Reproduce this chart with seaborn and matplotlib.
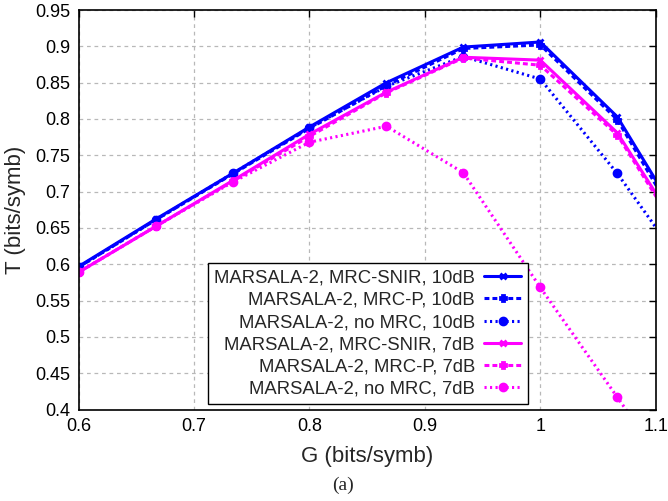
import matplotlib
matplotlib.use("Agg")
import matplotlib.pyplot as plt
import seaborn as sns
import pandas as pd

# G values (bits/symb); last point lies outside the shown x range
g_values = [0.6, 0.6667, 0.7333, 0.8, 0.8667, 0.9333, 1.0, 1.0667, 1.1333]

snir_10db = [0.597, 0.662, 0.725, 0.789, 0.850, 0.899, 0.906, 0.803, 0.629]
mrcp_10db = [0.596, 0.661, 0.724, 0.787, 0.846, 0.897, 0.902, 0.799, 0.620]
nomrc_10db = [0.596, 0.661, 0.725, 0.788, 0.845, 0.886, 0.855, 0.725, 0.577]
snir_7db = [0.589, 0.652, 0.715, 0.779, 0.837, 0.885, 0.881, 0.781, 0.615]
mrcp_7db = [0.589, 0.652, 0.714, 0.776, 0.836, 0.884, 0.874, 0.778, 0.610]
nomrc_7db = [0.589, 0.652, 0.713, 0.768, 0.790, 0.726, 0.568, 0.417, 0.266]

labels = [
    "MARSALA-2, MRC-SNIR, 10dB",
    "MARSALA-2, MRC-P, 10dB",
    "MARSALA-2, no MRC, 10dB",
    "MARSALA-2, MRC-SNIR, 7dB",
    "MARSALA-2, MRC-P, 7dB",
    "MARSALA-2, no MRC, 7dB",
]
series = [snir_10db, mrcp_10db, nomrc_10db, snir_7db, mrcp_7db, nomrc_7db]

colors = ["#0000ff", "#0000ff", "#0000ff", "#ff00ff", "#ff00ff", "#ff00ff"]
styles = ["-", (0, (1.6, 1.0)), (0, (0.7, 1.1)), "-", (0, (1.6, 1.0)), (0, (0.7, 1.1))]
markers = ["x", "P", "o", "x", "P", "o"]
msizes = [4.5, 4, 5, 4.5, 4, 5]

rows = []
for lab, vals in zip(labels, series):
    for g, t in zip(g_values, vals):
        rows.append({"G": g, "T": t, "curve": lab})
df = pd.DataFrame(rows)

sns.set_theme(style="white")
plt.rcParams["font.family"] = ["Liberation Sans", "DejaVu Sans"]

fig = plt.figure(figsize=(6.68, 5.01), dpi=100)
ax = fig.add_axes([0.1178, 0.1826, 0.8638, 0.7974])

for lab, col, ls, mk, ms in zip(labels, colors, styles, markers, msizes):
    sub = df[df["curve"] == lab]
    sns.lineplot(data=sub, x="G", y="T", ax=ax, color=col, linestyle=ls,
                 linewidth=2.2, marker=mk, markersize=ms, markeredgewidth=2,
                 markeredgecolor=col, label=lab, sort=False)

ax.set_xlim(0.6, 1.1)
ax.set_ylim(0.4, 0.95)
ax.set_xticks([0.6, 0.7, 0.8, 0.9, 1.0, 1.1])
ax.set_xticklabels(["0.6", "0.7", "0.8", "0.9", "1", "1.1"])
yt = [0.4, 0.45, 0.5, 0.55, 0.6, 0.65, 0.7, 0.75, 0.8, 0.85, 0.9, 0.95]
ax.set_yticks(yt)
ax.set_yticklabels([f"{v:g}" for v in yt])

ax.grid(True, color="#b8b8b8", linestyle=(0, (3, 3)), linewidth=0.9)
ax.set_axisbelow(True)
for s in ax.spines.values():
    s.set_color("black")
    s.set_linewidth(1.2)
ax.tick_params(direction="in", length=5, width=1, top=True, right=True,
               labelsize=13, colors="black", pad=6)

ax.set_xlabel("G (bits/symb)", fontsize=16, labelpad=8)
ax.set_ylabel("T (bits/symb)", fontsize=16, labelpad=7)

leg = ax.legend(loc="lower right", bbox_to_anchor=(0.778, 0.0138), fontsize=13.3,
                markerfirst=False, frameon=True, fancybox=False, framealpha=1,
                edgecolor="black", handlelength=2.0, handletextpad=0.5,
                labelspacing=0.28, borderpad=0.35, borderaxespad=0)
leg.get_frame().set_linewidth(1.0)

fig.text(0.514, 0.032, "(a)", ha="center", va="center", fontsize=14,
         family=["Liberation Serif", "DejaVu Serif"])

fig.savefig("out.png", dpi=100)
